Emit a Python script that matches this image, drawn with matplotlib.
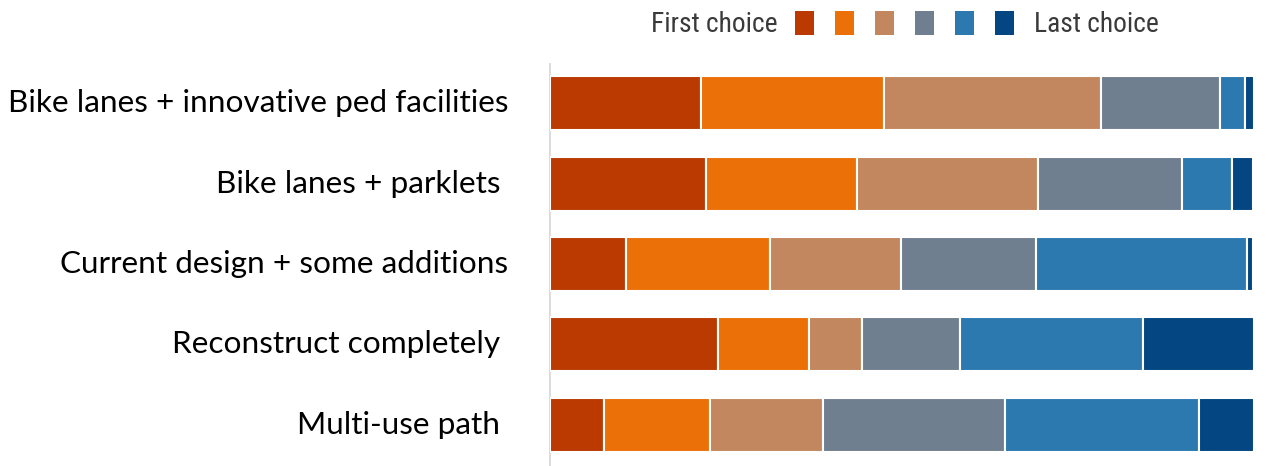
import matplotlib
matplotlib.use("Agg")
import matplotlib.pyplot as plt
from matplotlib.patches import Rectangle
from matplotlib import font_manager
import numpy as np

# Ranked preferences for each design option (percent of respondents)
categories = [
    "Bike lanes + innovative ped facilities",
    "Bike lanes + parklets ",
    "Current design + some additions",
    "Reconstruct completely ",
    "Multi-use path ",
]
rank1 = [21.5, 22.1, 10.8, 23.8, 7.6]
rank2 = [25.9, 21.5, 20.5, 13.0, 15.1]
rank3 = [30.8, 25.7, 18.6, 7.5, 16.1]
rank4 = [17.0, 20.5, 19.2, 14.0, 25.8]
rank5 = [3.5, 7.1, 29.9, 25.9, 27.6]
rank6 = [1.3, 3.0, 0.9, 15.8, 7.8]
legend_first = "First choice"
legend_last = "Last choice"

colors = ["#BA3A02", "#EB7007", "#C2875E", "#707F8F", "#2C79B0", "#034681"]

W, H = 1268, 466
fig = plt.figure(figsize=(W / 100, H / 100), dpi=100)
fig.patch.set_facecolor("white")


def available(name):
    try:
        font_manager.findfont(font_manager.FontProperties(family=name),
                              fallback_to_default=False)
        return True
    except Exception:
        return False


label_font = "Lato" if available("Lato") else "DejaVu Sans"
legend_font = next((f for f in ["Liberation Sans Narrow", "Roboto Condensed",
                                "Open Sans Condensed", "Liberation Sans"]
                    if available(f)), "DejaVu Sans")


def fit_size(text, family, target_px, **kw):
    t = fig.text(0, 0, text, fontsize=10, family=family, **kw)
    r = fig.canvas.get_renderer()
    w = t.get_window_extent(renderer=r).width
    t.remove()
    return 10 * target_px / w


ax = fig.add_axes([550 / W, 0, 704 / W, 402 / H])

series = [rank1, rank2, rank3, rank4, rank5, rank6]
y = np.arange(len(categories))
left = np.zeros(len(categories))
for vals, c in zip(series, colors):
    vals = np.asarray(vals, dtype=float)
    ax.barh(y, vals, left=left, height=0.673, color=c,
            edgecolor="white", linewidth=1.5, zorder=2)
    left += vals

ax.set_xlim(0, 100)
ax.set_ylim(4.517, -0.492)
ax.set_xticks([])
ax.set_yticks(y)
lab_size = fit_size(categories[0], label_font, 500)
ax.set_yticklabels(categories, fontsize=lab_size, family=label_font,
                   color="black")
ax.tick_params(axis="y", length=0, pad=30)
for lbl in ax.get_yticklabels():
    lbl.set_y(lbl.get_position()[1])
    lbl.set_transform(lbl.get_transform() +
                      matplotlib.transforms.ScaledTranslation(0, 2.5 / 100,
                                                              fig.dpi_scale_trans))
for s in ["top", "right", "bottom"]:
    ax.spines[s].set_visible(False)
ax.spines["left"].set_color("#D9D9D9")
ax.spines["left"].set_linewidth(1.3)
ax.spines["left"].set_zorder(1)

# Legend row: text, six colour swatches, text
leg_size = fit_size(legend_first, legend_font, 126)
ty = 1 - 24.5 / H
fig.text(651 / W, ty, legend_first, fontsize=leg_size, family=legend_font,
         color="#3A3A3A", ha="left", va="center")
fig.text(1034 / W, ty, legend_last, fontsize=leg_size, family=legend_font,
         color="#3A3A3A", ha="left", va="center")
for i, c in enumerate(colors):
    x0 = 795 + 40 * i
    fig.patches.append(Rectangle((x0 / W, 1 - 35 / H), 19 / W, 24 / H,
                                 transform=fig.transFigure, facecolor=c,
                                 edgecolor="none"))

fig.savefig("out.png", dpi=100, facecolor="white")
